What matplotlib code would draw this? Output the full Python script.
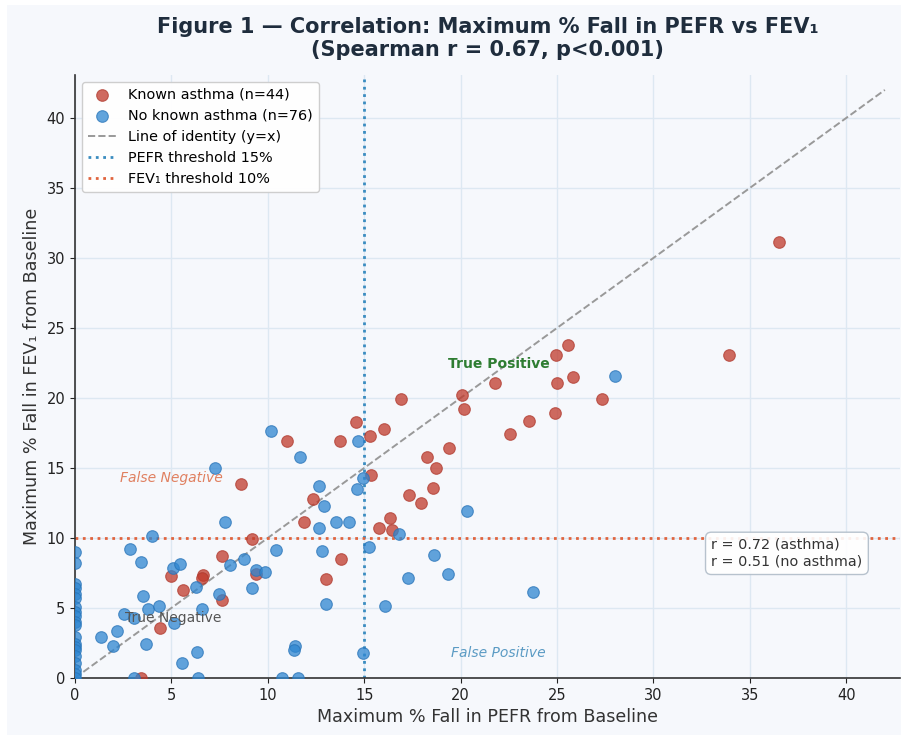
import matplotlib
matplotlib.use('Agg')
import matplotlib.pyplot as plt
from matplotlib.patches import Rectangle

# Known asthma (n=44): max % fall in PEFR and FEV1
asthma_pefr = [3.4, 4.4, 5.0, 5.6, 6.65, 6.6, 7.6, 7.6, 9.2, 9.4, 11.9, 13.0, 13.8, 15.75,
               8.6, 11.0, 13.75, 14.6, 15.3, 16.05, 16.9, 12.35, 15.35, 18.25, 18.7, 19.4,
               18.55, 17.3, 17.95, 16.35, 16.45, 20.05, 20.15, 21.8, 22.55, 23.55, 24.9,
               24.95, 25.55, 25.0, 25.85, 27.35, 33.9, 36.5]
asthma_fev1 = [0.0, 3.6, 7.25, 6.3, 7.35, 7.15, 8.7, 5.6, 9.9, 7.45, 11.15, 7.1, 8.5, 10.7,
               13.85, 16.9, 16.9, 18.25, 17.3, 17.75, 19.95, 12.75, 14.5, 15.8, 15.0, 16.45,
               13.6, 13.1, 12.5, 11.45, 10.6, 20.2, 19.2, 21.05, 17.45, 18.35, 18.95,
               23.05, 23.75, 21.05, 21.5, 19.95, 23.05, 31.15]

# No known asthma (n=76)
no_asthma_pefr = [0.0] * 20 + [
    1.33, 1.99, 2.2, 2.56, 3.06, 2.85, 3.42, 4.0, 3.53, 3.77, 4.36, 3.67, 3.06, 5.12,
    5.1, 5.45, 5.55, 6.28, 6.61, 6.33, 6.38, 7.47, 7.77, 8.04, 8.75, 9.2, 9.39, 9.84,
    10.41, 10.72, 11.55, 11.42, 11.38, 12.64, 12.82, 13.0, 13.53, 14.19, 14.96, 15.25,
    10.19, 11.68, 7.27, 12.64, 12.92, 14.67, 14.62, 14.93, 16.83, 18.63, 20.33, 27.99,
    23.77, 19.36, 17.28, 16.09]
no_asthma_fev1 = [9.0, 8.2, 6.7, 6.4, 6.0, 5.7, 5.1, 4.7, 4.4, 4.0, 3.8, 2.9, 2.4, 2.2,
                  2.0, 1.6, 1.1, 0.6, 0.3, 0.0] + [
    2.9, 2.29, 3.38, 4.55, 4.31, 9.19, 8.26, 10.16, 5.86, 4.9, 5.17, 2.43, 0.0, 3.9,
    7.88, 8.14, 1.05, 6.52, 4.9, 1.83, 0.0, 5.98, 11.14, 8.07, 8.5, 6.45, 7.71, 7.6,
    9.14, 0.0, 0.0, 2.3, 2.0, 10.7, 9.05, 5.26, 11.15, 11.15, 1.76, 9.38,
    17.64, 15.81, 14.98, 13.74, 12.29, 16.93, 13.48, 14.29, 10.29, 8.76, 11.9, 21.57,
    6.14, 7.43, 7.14, 5.14]

pefr_threshold = 15
fev1_threshold = 10
identity_max = 42

fig = plt.figure(figsize=(9.01, 7.35), dpi=100, facecolor='white')
fig.patches.append(Rectangle((7 / 901, 0), 1, 730 / 735, transform=fig.transFigure,
                             facecolor='#f6f8fc', edgecolor='none', zorder=-10))
ax = fig.add_axes([0.0832, 0.0776, 0.916, 0.821])
ax.set_facecolor('#f6f8fc')

# точки
h1 = ax.scatter(asthma_pefr, asthma_fev1, s=70, color='#c0392b', alpha=0.75,
                edgecolors='#b03a2e', linewidths=0.8, label='Known asthma (n=44)', zorder=3)
h2 = ax.scatter(no_asthma_pefr, no_asthma_fev1, s=70, color='#2e86d1', alpha=0.75,
                edgecolors='#2874b8', linewidths=0.8, label='No known asthma (n=76)', zorder=3)

# линии
h3, = ax.plot([0, identity_max], [0, identity_max], '--', color='#999999', lw=1.4,
              label='Line of identity (y=x)', zorder=2)
h4 = ax.axvline(pefr_threshold, color='#3a8cc0', ls=':', lw=2, label='PEFR threshold 15%', zorder=2)
h5 = ax.axhline(fev1_threshold, color='#e0643e', ls=':', lw=2, label='FEV\u2081 threshold 10%', zorder=2)

# подписи квадрантов
ax.text(22, 22.4, 'True Positive', color='#2e7d32', fontsize=10, fontweight='bold',
        ha='center', va='center')
ax.text(5, 14.3, 'False Negative', color='#e08060', fontsize=10, style='italic',
        ha='center', va='center')
ax.text(5.1, 4.3, 'True Negative', color='#555555', fontsize=10, ha='center', va='center')
ax.text(21.95, 1.8, 'False Positive', color='#5b9bc4', fontsize=10, style='italic',
        ha='center', va='center')

ax.text(33.0, 8.9, 'r = 0.72 (asthma)\nr = 0.51 (no asthma)', fontsize=10.4, color='#333333',
        ha='left', va='center', linespacing=1.25,
        bbox=dict(boxstyle='round,pad=0.4', facecolor='white', edgecolor='#b0bcc8', alpha=0.9))

ax.set_xlim(0, 42.8)
ax.set_ylim(0, 43.1)
ax.set_xticks(range(0, 45, 5))
ax.set_yticks(range(0, 45, 5))
ax.grid(True, color='#dde8f2', lw=1)
ax.set_axisbelow(True)
for side in ['top', 'right']:
    ax.spines[side].set_visible(False)
for side in ['left', 'bottom']:
    ax.spines[side].set_color('#333333')
    ax.spines[side].set_linewidth(1.2)
ax.tick_params(labelsize=10.5, colors='#222222')

ax.set_xlabel('Maximum % Fall in PEFR from Baseline', fontsize=12.6, color='#333333')
ax.set_ylabel('Maximum % Fall in FEV\u2081 from Baseline', fontsize=12.6, color='#333333')
ax.set_title('Figure 1 \u2014 Correlation: Maximum % Fall in PEFR vs FEV\u2081\n'
             '(Spearman r = 0.67, p<0.001)', fontsize=15, fontweight='bold', color='#1f2d3d',
             pad=13)

ax.legend(handles=[h1, h2, h3, h4, h5], loc='upper left', fontsize=10.4, framealpha=0.95,
          facecolor='white', edgecolor='#cccccc')

plt.savefig('out.png', dpi=100, facecolor=fig.get_facecolor())
